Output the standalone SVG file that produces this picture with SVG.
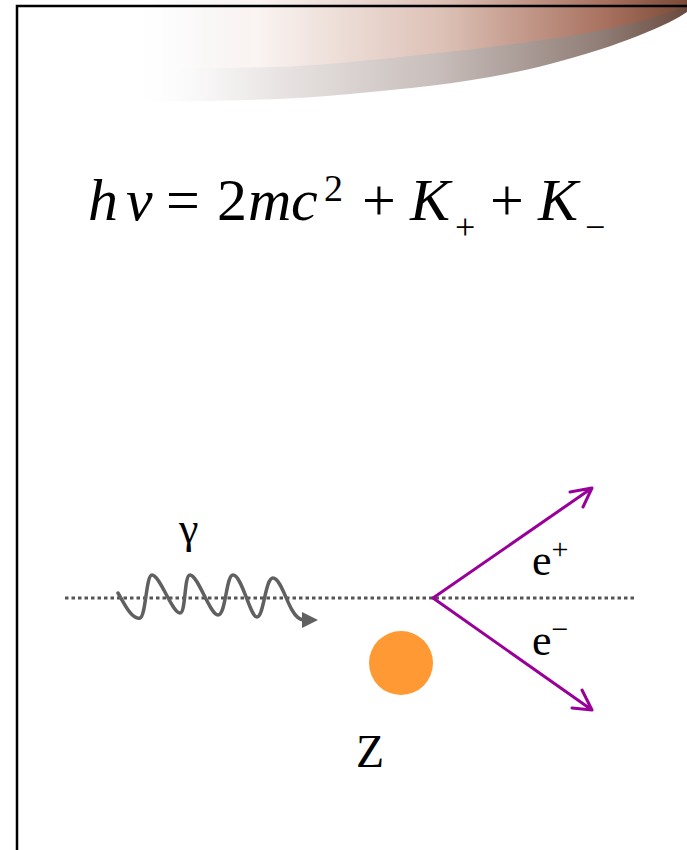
<svg xmlns="http://www.w3.org/2000/svg" width="687" height="850" viewBox="0 0 687 850">
<style>
.i{font-style:italic}
.wave{fill:none;stroke:#606060;stroke-width:3.5;stroke-linecap:round}
.ep{fill:none;stroke:#990099;stroke-width:3;stroke-linecap:round;stroke-linejoin:round}
</style>
<defs>
<linearGradient id="gLow" x1="130" y1="0" x2="687" y2="0" gradientUnits="userSpaceOnUse">
<stop offset="0" stop-color="#ffffff" stop-opacity="0"/>
<stop offset="0.15" stop-color="#f6f4f4"/>
<stop offset="0.55" stop-color="#c8bebb"/>
<stop offset="0.85" stop-color="#8f7c75"/>
<stop offset="1" stop-color="#6a4a3e"/>
</linearGradient>
<linearGradient id="gUp" x1="150" y1="0" x2="687" y2="0" gradientUnits="userSpaceOnUse">
<stop offset="0" stop-color="#ffffff" stop-opacity="0"/>
<stop offset="0.2" stop-color="#faf4f2"/>
<stop offset="0.55" stop-color="#dcc0b5"/>
<stop offset="0.85" stop-color="#a8705e"/>
<stop offset="1" stop-color="#7a4a38"/>
</linearGradient>
</defs>
<rect width="687" height="850" fill="#ffffff"/>
<g id="swoosh">
<path d="M130,0 L687,0 L687,12 C670,24 620,46 550,64 S420,87 350,94 S200,101 130,102 Z" fill="url(#gLow)"/>
<path d="M150,0 L687,0 L687,5 C670,14 620,29 550,39 S420,55 350,62 S220,68 150,68 Z" fill="url(#gUp)"/>
</g>
<g id="frame">
<path d="M17,850 V6 H687" fill="none" stroke="#000" stroke-width="2.5"/>
</g>
<g font-family="Liberation Serif, Times New Roman, serif" fill="#000">
<g id="equation">
<text x="88" y="220" font-size="60" class="i">h</text>
<text x="126" y="220" font-size="60" class="i">ν</text>
<text x="166" y="220" font-size="60">=</text>
<text x="217" y="220" font-size="60">2</text>
<text x="248" y="220" font-size="60" class="i">m</text>
<text x="291" y="220" font-size="60" class="i">c</text>
<text x="324" y="201" font-size="38">2</text>
<text x="362" y="220" font-size="60">+</text>
<text x="410" y="220" font-size="60" class="i">K</text>
<text x="455" y="239" font-size="36">+</text>
<text x="490" y="220" font-size="60">+</text>
<text x="538" y="220" font-size="60" class="i">K</text>
<text x="585" y="239" font-size="36">−</text>
</g>
<g id="connectors">
<line x1="65" y1="598" x2="637" y2="598" stroke="#555555" stroke-width="3" stroke-dasharray="3.5 3"/>
</g>
<g id="photon">
<path class="wave" d="M118,593 C125,605 132,620 140,618 C146,616 146,575 152,575 C160,575 172,613 180,613 C186,613 184,575 190,575 C198,575 210,615 218,615 C226,615 226,575 233,575 C242,575 250,617 257,617 C264,617 265,578 273,578 C280,578 286,600 292,610 C296,617 300,620 304,620"/>
<polygon points="302,612 318,620 302,628" fill="#606060"/>
<text x="179" y="543" font-size="44">γ</text>
</g>
<g id="positron">
<path class="ep" d="M433,598 L592,488 M570,492 L592,488 L583,507"/>
<text x="532" y="575" font-size="44">e<tspan font-size="30" dy="-16">+</tspan></text>
</g>
<g id="electron">
<path class="ep" d="M433,598 L592,710 M572,708 L592,710 L582,690"/>
<text x="532" y="655" font-size="44">e<tspan font-size="30" dy="-16">−</tspan></text>
</g>
<g id="nucleus">
<circle cx="401" cy="663" r="32" fill="#ff9933"/>
<text x="356" y="767" font-size="46">Z</text>
</g>
</g>
</svg>
